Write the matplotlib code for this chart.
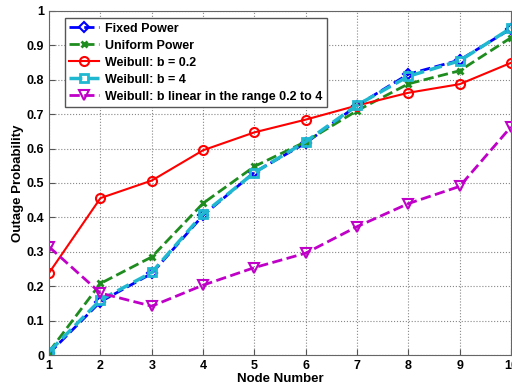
import matplotlib
matplotlib.use("Agg")
import matplotlib.pyplot as plt

# Node numbers and outage probabilities
nodes = [1, 2, 3, 4, 5, 6, 7, 8, 9, 10]
fixed_power = [0.005, 0.155, 0.237, 0.406, 0.531, 0.616, 0.725, 0.816, 0.857, 0.948]
uniform_power = [0.01, 0.208, 0.285, 0.441, 0.548, 0.62, 0.71, 0.788, 0.826, 0.922]
weibull_02 = [0.239, 0.456, 0.507, 0.595, 0.647, 0.684, 0.725, 0.762, 0.787, 0.849]
weibull_4 = [0.01, 0.16, 0.24, 0.41, 0.53, 0.62, 0.726, 0.81, 0.855, 0.95]
weibull_lin = [0.314, 0.18, 0.142, 0.203, 0.254, 0.296, 0.373, 0.44, 0.49, 0.663]

labels = ["Fixed Power", "Uniform Power", "Weibull: b = 0.2",
          "Weibull: b = 4", "Weibull: b linear in the range 0.2 to 4"]

plt.rcParams['font.family'] = ['Liberation Sans', 'DejaVu Sans']
plt.rcParams['font.weight'] = 'bold'

fig = plt.figure(figsize=(5.12, 3.88), dpi=100)
ax = fig.add_axes([0.096, 0.085, 0.902, 0.887])

ax.plot(nodes, fixed_power, '--', color='#0000ff', lw=2, marker='D', ms=5,
        mfc='none', mew=1.5, label=labels[0])
ax.plot(nodes, uniform_power, '--', color='#1e8c1e', lw=2, marker='x', ms=5,
        mew=2, label=labels[1])
ax.plot(nodes, weibull_02, '-', color='#ff0000', lw=1.5, marker='o', ms=6.5,
        mfc='none', mew=1.5, label=labels[2])
ax.plot(nodes, weibull_4, '--', color='#1fb8d0', lw=2.5, marker='s', ms=5.5,
        mfc='none', mew=2, label=labels[3])
ax.plot(nodes, weibull_lin, '--', color='#c000c8', lw=2, marker='v', ms=7,
        mfc='none', mew=1.5, label=labels[4])

ax.set_xlim(1, 10)
ax.set_ylim(0, 1)
ax.set_xticks(nodes)
ax.set_yticks([0, 0.1, 0.2, 0.3, 0.4, 0.5, 0.6, 0.7, 0.8, 0.9, 1])
ax.set_yticklabels(['0', '0.1', '0.2', '0.3', '0.4', '0.5', '0.6', '0.7', '0.8', '0.9', '1'])
ax.tick_params(direction='in', labelsize=9, color='#555555', length=4)
ax.grid(True, linestyle=':', color='#888888', lw=0.8)
for s in ax.spines.values():
    s.set_color('#666666')

ax.set_xlabel("Node Number", fontsize=9.5, fontweight='bold', labelpad=1)
ax.set_ylabel("Outage Probability", fontsize=9.5, fontweight='bold', labelpad=2)

leg = ax.legend(loc='upper left', bbox_to_anchor=(0.02, 0.997), fontsize=9,
                handlelength=2.4, fancybox=False, framealpha=1,
                borderpad=0.35, labelspacing=0.4, handletextpad=0.5)
leg.get_frame().set_edgecolor('#555555')
leg.get_frame().set_linewidth(1)

fig.savefig("out.png", dpi=100)
